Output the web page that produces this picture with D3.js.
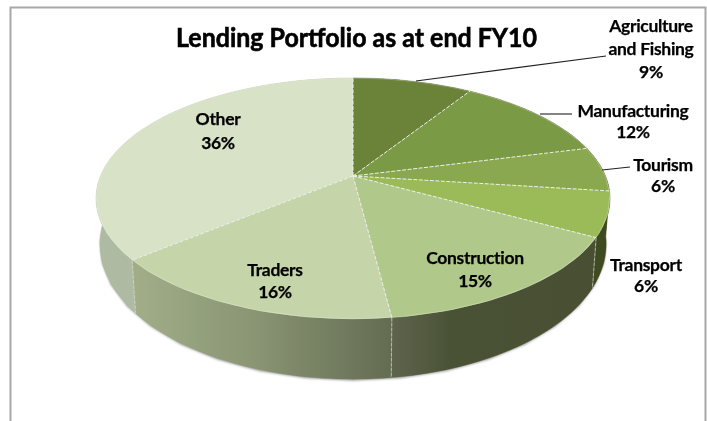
<!DOCTYPE html>
<html><head><meta charset="utf-8">
<script src="https://cdnjs.cloudflare.com/ajax/libs/d3/7.8.5/d3.min.js"></script>
<style>html,body{margin:0;padding:0;background:#fff}svg{display:block}text{font-family:Lato,"Open Sans",sans-serif;font-weight:700;fill:#050505;stroke:#050505}</style>
</head><body><script>
const chartTitle = "Lending Portfolio as at end FY10";
const categories = ["Agriculture and Fishing","Manufacturing","Tourism","Transport","Construction","Traders","Other"];
const shares = [9,12,6,6,15,16,36];
const sliceColors = ["#6b8239","#7b9a46","#8aa84f","#9bbb59","#b0c98b","#c5d5a9","#d7e2c6"];

const W=707,H=421;
const svg=d3.select("body").append("svg").attr("width",W).attr("height",H);
const defs=svg.append("defs");
defs.append("filter").attr("id","soft").attr("x","-10%").attr("y","-10%").attr("width","120%").attr("height","120%")
  .append("feGaussianBlur").attr("stdDeviation",1.2);
defs.append("filter").attr("id","txt").append("feGaussianBlur").attr("stdDeviation",0.4);

function grad(id,x1,x2,stops){
  const g=defs.append("linearGradient").attr("id",id).attr("gradientUnits","userSpaceOnUse")
    .attr("x1",x1).attr("x2",x2).attr("y1",0).attr("y2",0);
  stops.forEach(s=>g.append("stop").attr("offset",s[0]).attr("stop-color",s[1]));
}
grad("w5",137,390,[[0,"#a0ad87"],[0.45,"#8a9674"],[1,"#646c52"]]);
grad("w4",390,592,[[0,"#5f654d"],[0.3,"#4a5236"],[1,"#484f33"]]);
const wallFills=["#3f4a20","#3f4a20","#3f4a20","#3f4a20","url(#w4)","url(#w5)","#afbaa2"];

// frame
svg.append("path").attr("d",`M10.5,${H} V7.5 H705.5 V${H}`).attr("fill","none").attr("stroke","#a8a8a8").attr("stroke-width",2);

// perspective projection of the pie disc
const cx=353,cy=176,A=252.5,B=116.3,k=0.1867;
const topXY=a=>{const x=Math.sin(a),y=-Math.cos(a),d=1-k*y;return [cx+A*x/d,cy+B*y/d];};
const botXY=a=>{const p=topXY(a);return [cx+(p[0]-cx)*0.985,cy+(p[1]-cy)*1.12+43];};
const line=d3.line();
const pie=d3.pie().sort(null)(shares);
const samples=(s,e)=>d3.range(0,41).map(i=>s+(e-s)*i/40);

const full=samples(0,2*Math.PI);
// shadow
svg.append("path").attr("d",line(full.map(a=>{const p=botXY(a);return [p[0],p[1]+1.5];}))+"Z")
  .attr("fill","#a0a0a0").attr("filter","url(#soft)");
// walls, then top
pie.forEach((d,i)=>{
  const as=samples(d.startAngle,d.endAngle);
  svg.append("path").attr("d",line(as.map(topXY).concat(as.slice().reverse().map(botXY)))+"Z")
    .attr("fill",wallFills[i]).attr("stroke",wallFills[i]).attr("stroke-width",0.4);
});
pie.forEach(d=>{
  if(d.index>=3&&d.index<=5){
    const t=topXY(d.endAngle),b=botXY(d.endAngle);
    svg.append("line").attr("x1",t[0]).attr("y1",t[1]).attr("x2",b[0]).attr("y2",b[1])
      .attr("stroke","#d8dccb").attr("stroke-width",0.9).attr("stroke-dasharray","4 1").attr("opacity",0.8);
  }
});
pie.forEach((d,i)=>{
  const as=samples(d.startAngle,d.endAngle);
  svg.append("path").attr("d",line([[cx,cy]].concat(as.map(topXY)))+"Z").attr("fill",sliceColors[i]);
});
pie.forEach(d=>{
  const p=topXY(d.endAngle);
  svg.append("line").attr("x1",cx).attr("y1",cy).attr("x2",p[0]).attr("y2",p[1])
    .attr("stroke","#eef2e4").attr("stroke-width",1).attr("stroke-dasharray","4 1.5");
});
svg.append("path").attr("d",line(full.map(topXY))+"Z").attr("fill","none")
  .attr("stroke","#f0f3e8").attr("stroke-width",0.6).attr("opacity",0.5);

// leaders
const leaders=[[[416,81],[606,56]],[[540,114],[572,114]],[[602,170],[630,167]]];
leaders.forEach(l=>svg.append("path").attr("d",line(l)).attr("stroke","#222").attr("stroke-width",1.1).attr("fill","none"));

// text
const labelLines=[["Agriculture","and Fishing"],["Manufacturing"],["Tourism"],["Transport"],["Construction"],["Traders"],["Other"]];
const labelAt=[[651,32,23],[633,117,21],[663,171,21],[646,271,21],[475,264,23],[275,276,22],[218,125,24]];
const tg=svg.append("g").attr("filter","url(#txt)");
tg.append("text").text(chartTitle).attr("x",356.5).attr("y",47).attr("text-anchor","middle")
  .attr("font-size",26).attr("stroke-width",0.6).attr("textLength",361).attr("lengthAdjust","spacingAndGlyphs");
categories.forEach((c,i)=>{
  const [x,y,step]=labelAt[i];
  const rows=labelLines[i].concat([shares[i]+"%"]);
  rows.forEach((r,j)=>tg.append("text").text(r).attr("x",x).attr("y",y+j*step)
    .attr("text-anchor","middle").attr("font-size",17.5).attr("stroke-width",0.25).attr("letter-spacing",-0.3));
});
</script></body></html>
